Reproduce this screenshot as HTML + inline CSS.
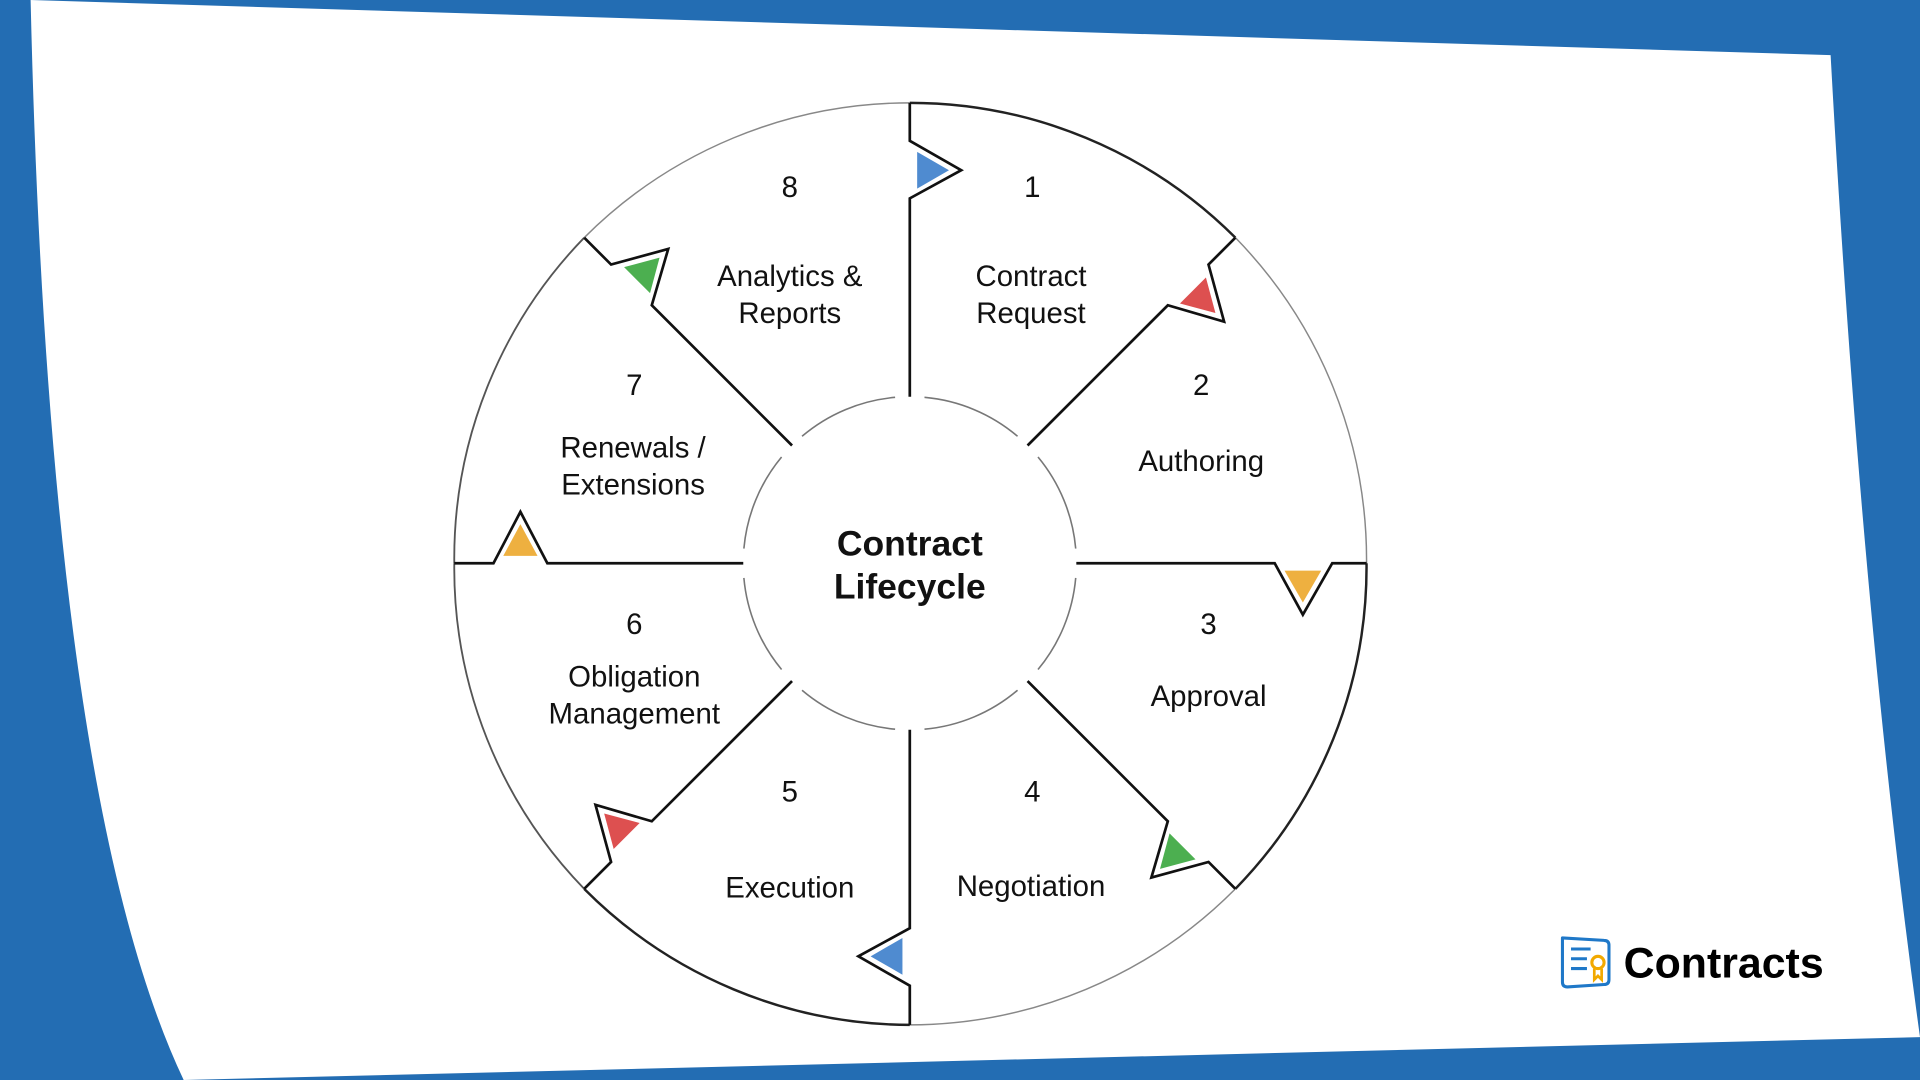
<!DOCTYPE html>
<html><head><meta charset="utf-8"><style>
html,body{margin:0;padding:0;background:#236db3;}
svg{display:block;}
text{font-family:"Liberation Sans",sans-serif;fill:#111;}
</style></head><body>
<svg width="1920" height="1080" viewBox="0 0 1568 882" xmlns="http://www.w3.org/2000/svg">
<rect width="1568" height="882" fill="#236db3"/>
<path d="M25,0 L1495,45 Q1520,500 1568,847 L150,882 Q40,650 25,0 Z" fill="#fff"/>
<g transform="translate(743,460)" fill="none">
  <path d="M0,-376 A376,376 0 0 1 265.9,-265.9" stroke="#222" stroke-width="2"/>
  <path d="M265.9,-265.9 A376,376 0 0 1 373,0" stroke="#888" stroke-width="1.2"/>
  <path d="M373,0 A376,376 0 0 1 265.9,265.9" stroke="#222" stroke-width="2"/>
  <path d="M265.9,265.9 A376,376 0 0 1 0,377" stroke="#888" stroke-width="1.2"/>
  <path d="M0,377 A376,376 0 0 1 -265.9,265.9" stroke="#222" stroke-width="2"/>
  <path d="M-265.9,265.9 A376,376 0 0 1 -372,0" stroke="#555" stroke-width="1.5"/>
  <path d="M-372,0 A376,376 0 0 1 -265.9,-265.9" stroke="#555" stroke-width="1.5"/>
  <path d="M-265.9,-265.9 A376,376 0 0 1 0,-376" stroke="#888" stroke-width="1.2"/>
  <g stroke="#777" stroke-width="1.3">
    <path d="M12,-135.5 A136,136 0 0 1 88,-103.7"/>
    <path d="M104.7,-86.8 A136,136 0 0 1 135.5,-12"/>
    <path d="M135.5,12 A136,136 0 0 1 104.7,86.8"/>
    <path d="M88,103.7 A136,136 0 0 1 12,135.5"/>
    <path d="M-12,135.5 A136,136 0 0 1 -88,103.7"/>
    <path d="M-104.7,86.8 A136,136 0 0 1 -135.5,12"/>
    <path d="M-135.5,-12 A136,136 0 0 1 -104.7,-86.8"/>
    <path d="M-88,-103.7 A136,136 0 0 1 -12,-135.5"/>
  </g>
</g>
<g transform="translate(743,460)">
  <g transform="rotate(-90)"><path d="M136,0 L298,0 L321,42 L345,0 L376,0" stroke="#111" stroke-width="2.2" fill="none"/><path d="M306,6 L336,6 L321,32Z" fill="#4f8bd0"/></g>
  <g transform="rotate(-45)"><path d="M136,0 L298,0 L321,42 L345,0 L376,0" stroke="#111" stroke-width="2.2" fill="none"/><path d="M306,6 L336,6 L321,32Z" fill="#dd5050"/></g>
  <g transform="rotate(0)"><path d="M136,0 L298,0 L321,42 L345,0 L373,0" stroke="#111" stroke-width="2.2" fill="none"/><path d="M306,6 L336,6 L321,32Z" fill="#eeb040"/></g>
  <g transform="rotate(45)"><path d="M136,0 L298,0 L321,42 L345,0 L376,0" stroke="#111" stroke-width="2.2" fill="none"/><path d="M306,6 L336,6 L321,32Z" fill="#4caf50"/></g>
  <g transform="rotate(90)"><path d="M136,0 L298,0 L321,42 L345,0 L377,0" stroke="#111" stroke-width="2.2" fill="none"/><path d="M306,6 L336,6 L321,32Z" fill="#4f8bd0"/></g>
  <g transform="rotate(135)"><path d="M136,0 L298,0 L321,42 L345,0 L376,0" stroke="#111" stroke-width="2.2" fill="none"/><path d="M306,6 L336,6 L321,32Z" fill="#dd5050"/></g>
  <g transform="rotate(180)"><path d="M136,0 L296,0 L318,42 L340,0 L372,0" stroke="#111" stroke-width="2.2" fill="none"/><path d="M304,6 L332,6 L318,32Z" fill="#eeb040"/></g>
  <g transform="rotate(225)"><path d="M136,0 L298,0 L321,42 L345,0 L376,0" stroke="#111" stroke-width="2.2" fill="none"/><path d="M306,6 L336,6 L321,32Z" fill="#4caf50"/></g>
</g>
<g font-size="24" text-anchor="middle" dominant-baseline="central">
  <text x="843" y="153">1</text>
  <text x="842" y="226">Contract</text><text x="842" y="256">Request</text>
  <text x="981" y="315">2</text>
  <text x="981" y="377">Authoring</text>
  <text x="987" y="510">3</text>
  <text x="987" y="569">Approval</text>
  <text x="843" y="647">4</text>
  <text x="842" y="724">Negotiation</text>
  <text x="645" y="647">5</text>
  <text x="645" y="725">Execution</text>
  <text x="518" y="510">6</text>
  <text x="518" y="553">Obligation</text><text x="518" y="583">Management</text>
  <text x="518" y="315">7</text>
  <text x="517" y="366">Renewals /</text><text x="517" y="396">Extensions</text>
  <text x="645" y="153">8</text>
  <text x="645" y="226">Analytics &amp;</text><text x="645" y="256">Reports</text>
  <text x="743" y="444" font-size="29" font-weight="bold">Contract</text>
  <text x="743" y="479" font-size="29" font-weight="bold">Lifecycle</text>
</g>
<g transform="translate(1274,766)">
  <path d="M2,0 L36,2 Q40,2 40,6 L40,34 Q40,38 36,38 L6,40 Q2,40 2,36 Z" fill="none" stroke="#1f78c8" stroke-width="2.5" stroke-linejoin="round"/>
  <path d="M9,9 H25 M9,17 H25 M9,25 H25" stroke="#1f78c8" stroke-width="2.5"/>
  <rect x="22" y="12" width="16" height="22" fill="#fff"/>
  <circle cx="31" cy="20" r="5" fill="#fff" stroke="#f2a900" stroke-width="2.5"/>
  <path d="M28,25 L28,34 L31,31 L34,34 L34,25" fill="none" stroke="#f2a900" stroke-width="2.2"/>
</g>
<text x="1326" y="787" font-size="35" font-weight="bold" dominant-baseline="central" style="fill:#000">Contracts</text>
</svg>
</body></html>
